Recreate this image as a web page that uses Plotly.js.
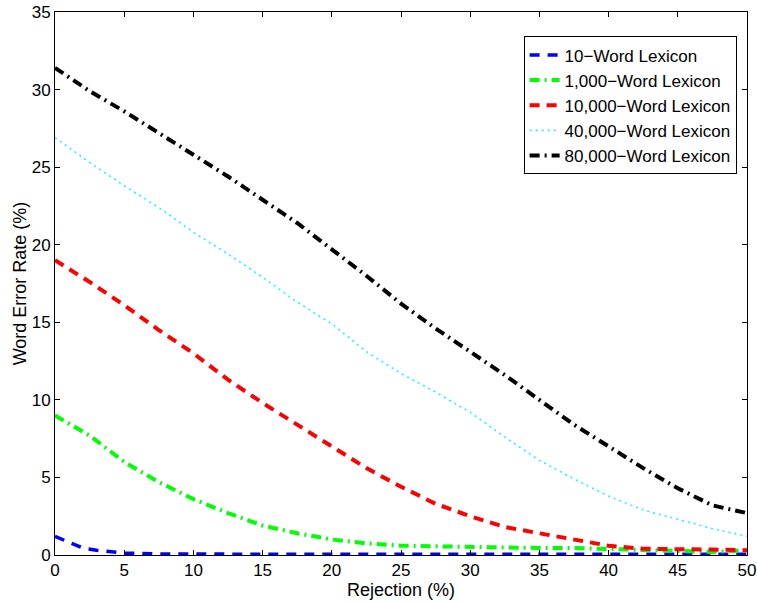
<!DOCTYPE html>
<html>
<head>
<meta charset="utf-8">
<script src="https://cdn.plot.ly/plotly-3.0.1.min.js"></script>
<style>html,body{margin:0;padding:0;background:#fff;}#chart{width:757px;height:602px;}</style>
</head>
<body>
<div id="chart"></div>
<script>
// Rejection (%) sample points
const rejection = [0,2.5,5,7.5,10,12.5,15,17.5,20,22.5,25,27.5,30,32.5,35,37.5,40,42.5,45,47.5,50];
const rejection10 = [0,1,2,3,4,5,7.5,10,15,20,25,30,35,40,45,50];

// Word error rate (%) per lexicon size
const wer10    = [1.2,0.8,0.45,0.3,0.2,0.12,0.07,0.05,0.05,0.05,0.05,0.05,0.05,0.05,0.05,0.05];
const wer1000  = [9.0,7.7,6.0,4.7,3.6,2.7,1.9,1.4,1.0,0.75,0.6,0.55,0.55,0.5,0.45,0.45,0.4,0.3,0.25,0.2,0.3];
const wer10000 = [19.0,17.6,16.1,14.5,13.0,11.3,9.8,8.4,7.0,5.6,4.4,3.3,2.5,1.8,1.4,1.0,0.6,0.4,0.4,0.35,0.3];
const wer40000 = [26.9,25.3,23.8,22.4,20.8,19.4,17.9,16.3,14.9,13.1,11.7,10.5,9.2,7.6,6.1,4.9,3.8,2.9,2.3,1.7,1.2];
const wer80000 = [31.4,29.9,28.6,27.2,25.8,24.4,22.9,21.4,19.7,18.0,16.2,14.6,13.1,11.6,10.0,8.4,7.0,5.6,4.3,3.2,2.7];

const seriesNames = ['10\u2212Word Lexicon','1,000\u2212Word Lexicon','10,000\u2212Word Lexicon','40,000\u2212Word Lexicon','80,000\u2212Word Lexicon'];
const xTicks = [0,5,10,15,20,25,30,35,40,45,50];
const yTicks = [0,5,10,15,20,25,30,35];

const traces = [
  {x: rejection10, y: wer10, name: seriesNames[0], mode:'lines', line:{color:'#0000ff', width:3.5, dash:'10px,8px'}},
  {x: rejection, y: wer1000, name: seriesNames[1], mode:'lines', line:{color:'#00ff00', width:4, dash:'10px,5px,2px,5px'}},
  {x: rejection, y: wer10000, name: seriesNames[2], mode:'lines', line:{color:'#ff0000', width:4, dash:'10px,7px'}},
  {x: rejection, y: wer40000, name: seriesNames[3], mode:'lines', line:{color:'#00ffff', width:1.5, dash:'2px,4px'}},
  {x: rejection, y: wer80000, name: seriesNames[4], mode:'lines', line:{color:'#000000', width:4, dash:'10px,5px,2px,5px'}}
];

const FONT = 'Liberation Sans, Arial, Helvetica, sans-serif';
const axisCommon = {
  showgrid:false, zeroline:false, showline:true, linecolor:'#000', linewidth:1,
  mirror:'ticks', ticks:'inside', ticklen:5, tickcolor:'#000',
  ticklabeloverflow:'allow',
  tickfont:{family:FONT, size:17, color:'#000'}
};

const layout = {
  width:757, height:602,
  margin:{l:55, r:10, t:12, b:47},
  paper_bgcolor:'#fff', plot_bgcolor:'#fff',
  font:{family:FONT, color:'#000'},
  xaxis: Object.assign({}, axisCommon, {
    range:[0,50], tickvals:xTicks, ticktext:xTicks.map(String),
    title:{text:'Rejection (%)', font:{size:18, color:'#000'}, standoff:0}
  }),
  yaxis: Object.assign({}, axisCommon, {
    range:[0,35], tickvals:yTicks, ticktext:yTicks.map(String),
    title:{text:'Word Error Rate (%)', font:{size:18, color:'#000'}, standoff:0}
  }),
  legend:{
    x:0.985, y:0.955, xanchor:'right', yanchor:'top',
    bgcolor:'#fff', bordercolor:'#000', borderwidth:1,
    font:{family:FONT, size:17, color:'#000'},
    tracegroupgap:0, itemwidth:30
  },
  showlegend:true
};

Plotly.newPlot('chart', traces, layout, {displayModeBar:false, staticPlot:true});
</script>
</body>
</html>
